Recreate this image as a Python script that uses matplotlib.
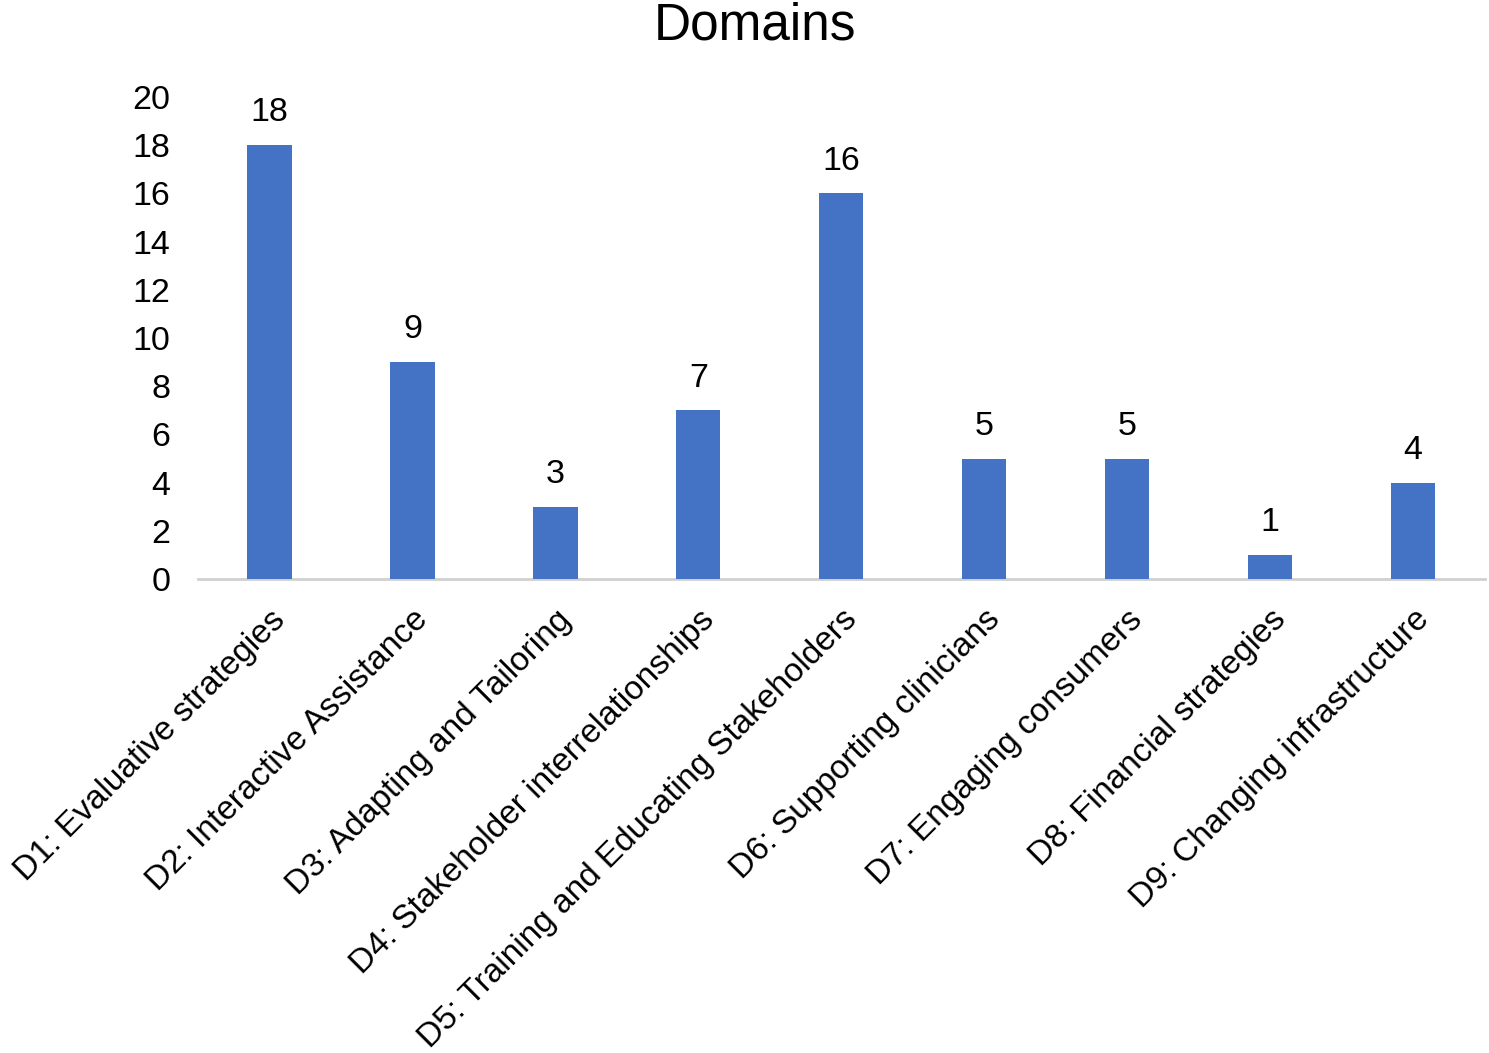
import matplotlib
matplotlib.use("Agg")
import matplotlib.pyplot as plt

categories = ["D1: Evaluative strategies", "D2: Interactive Assistance",
              "D3: Adapting and Tailoring", "D4: Stakeholder interrelationships",
              "D5: Training and Educating Stakeholders", "D6: Supporting clinicians",
              "D7: Engaging consumers", "D8: Financial strategies",
              "D9: Changing infrastructure"]
values = [18, 9, 3, 7, 16, 5, 5, 1, 4]
yticks = [0, 2, 4, 6, 8, 10, 12, 14, 16, 18, 20]

plt.rcParams['font.family'] = ['Liberation Sans', 'DejaVu Sans']

fig = plt.figure(figsize=(14.89, 10.53), dpi=100)
ax = fig.add_axes([0.133, 0.450, 0.864, 0.458])
x = list(range(len(categories)))
ax.bar(x, values, width=0.31, color="#4472C4", zorder=3)
for xi, v in zip(x, values):
    ax.annotate(str(v), (xi, v), xytext=(0, 12), textcoords="offset points",
                ha="center", va="bottom", fontsize=24.5, color="black")
ax.set_xlim(-0.5, len(categories) - 0.5)
ax.set_ylim(0, 20)
ax.set_yticks(yticks)
ax.set_yticklabels([str(t) for t in yticks], fontsize=24.5)
ax.set_xticks(x)
ax.set_xticklabels(categories, rotation=45, ha="right", rotation_mode="anchor",
                   fontsize=24)
ax.tick_params(axis="both", length=0)
ax.tick_params(axis="y", pad=20)
ax.tick_params(axis="x", pad=18)
for s in ["top", "right", "left"]:
    ax.spines[s].set_visible(False)
ax.spines["bottom"].set_color("#D0D0D0")
ax.spines["bottom"].set_linewidth(2)
fig.text(0.507, 0.975, "Domains", ha="center", va="center", fontsize=37)
fig.savefig("out.png", dpi=100, facecolor="white")
